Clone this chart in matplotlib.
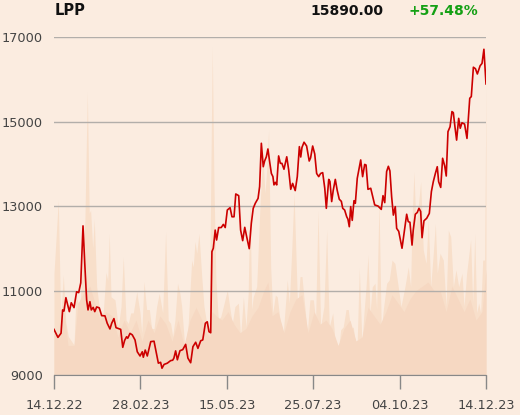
import matplotlib
matplotlib.use('Agg')
import matplotlib.pyplot as plt

# LPP share price, last year (x = trading day index)
price_day = [0, 2.3, 4.1, 5.0, 5.8, 6.9, 8.9, 10.0, 11.6, 13.1, 14.3, 15.5, 16.8, 17.8, 18.9,
             19.7, 20.8, 21.6, 22.7, 23.6, 24.7, 26.2, 27.6, 29.5, 30.8, 32.4, 33.4, 34.7, 35.9,
             38.6, 39.8, 40.9, 42.0, 42.7, 44.0, 45.3, 46.9, 48.2, 49.8, 51.1, 51.7, 52.8, 54.0,
             56.0, 57.9, 59.2, 60.4, 61.7, 62.5, 63.7, 65.6, 67.5, 68.7, 69.4, 70.4, 71.4, 72.9,
             74.5, 76.2, 77.5, 79.1, 80.4, 82.0, 83.3, 84.9, 86.1, 87.6, 88.7, 89.7, 90.7, 91.4,
             92.2, 93.3, 94.1, 95.3, 96.8, 98.0, 99.1, 100.3, 101.9, 103.0, 104.2, 105.2, 106.9,
             108.0, 109.2, 110.4, 111.5, 113.0, 114.2, 115.3, 116.5, 118.1, 119.0, 120.0, 121.1,
             121.9, 122.9, 123.8, 124.8, 125.8, 126.7, 127.3, 128.1, 128.9, 130.0, 131.0, 131.9,
             133.1, 134.7, 135.8, 137.0, 138.1, 139.6, 140.8, 142.0, 142.8, 143.5, 144.7, 146.2,
             147.7, 148.5, 149.7, 150.9, 152.0, 153.2, 154.3, 155.5, 156.7, 157.6, 159.0, 159.7,
             160.7, 161.6, 162.8, 163.9, 165.1, 166.3, 167.1, 168.2, 169.4, 170.1, 170.9, 171.7,
             172.6, 173.6, 174.4, 175.5, 177.5, 178.6, 179.8, 180.6, 181.7, 183.3, 185.6, 187.5,
             189.4, 190.4, 191.4, 192.5, 193.5, 194.4, 195.4, 196.4, 197.5, 198.3, 199.5, 200.4,
             201.4, 202.9, 204.1, 205.0, 206.0, 207.2, 207.9, 209.1, 210.2, 211.2, 212.2, 213.0,
             214.1, 215.7, 217.2, 218.4, 219.5, 220.7, 221.8, 222.6, 223.8, 224.9, 226.1, 227.0,
             228.0, 229.2, 230.3, 231.1, 231.9, 233.0, 234.2, 235.1, 236.1, 237.6, 239.0, 240.6,
             241.5, 242.7, 243.9, 245.0, 246.6, 247.7, 248.8, 250.0]
price = [10080, 9890, 9990, 10540, 10515, 10830, 10500, 10710, 10595, 10970, 10950, 11180, 12530,
         11650, 10775, 10540, 10735, 10540, 10600, 10500, 10610, 10590, 10405, 10400, 10225, 10090,
         10225, 10335, 10120, 10080, 9655, 9820, 9905, 9870, 9985, 9950, 9830, 9550, 9450, 9550,
         9420, 9590, 9450, 9790, 9800, 9530, 9280, 9300, 9160, 9250, 9280, 9340, 9350, 9400, 9570,
         9360, 9575, 9600, 9725, 9400, 9290, 9670, 9775, 9630, 9810, 9830, 10225, 10260, 10025,
         10000, 11920, 12000, 12430, 12195, 12490, 12490, 12565, 12490, 12905, 12960, 12745, 12745,
         13285, 13245, 12430, 12180, 12495, 12275, 11990, 12590, 12945, 13065, 13180, 13460, 14485,
         13930, 14065, 14165, 14350, 14050, 13770, 13695, 13500, 13560, 13500, 14185, 14010, 14010,
         13870, 14165, 13860, 13395, 13535, 13365, 13695, 14405, 14160, 14385, 14510, 14420, 14065,
         14140, 14420, 14230, 13770, 13695, 13770, 13790, 13420, 12945, 13630, 13580, 13105, 13370,
         13630, 13370, 13160, 13110, 12945, 12905, 12745, 12690, 12510, 12985, 12660, 13125, 13065,
         13655, 14090, 13695, 13985, 13970, 13395, 13420, 13025, 13000, 12920, 13245, 13080, 13815,
         13940, 13830, 13220, 12785, 12985, 12470, 12400, 12210, 12000, 12450, 12805, 12630, 12615,
         12075, 12430, 12805, 12845, 12945, 12870, 12250, 12650, 12710, 12825, 13340, 13575, 13770,
         13930, 13575, 13440, 14130, 13950, 13710, 14760, 14875, 15235, 15210, 14920, 14560, 15075,
         14840, 14970, 14940, 14600, 15550, 15590, 16285, 16250, 16125, 16320, 16375, 16710, 15890]

# daily volume (shares)
vol_day = [0, 2.5, 3.9, 5.4, 6.8, 8.3, 11.6, 12.7, 15.0, 17.9, 19.3, 20.4, 21.2, 22.4, 23.3, 24.7,
           26.6, 28.5, 30.1, 31.1, 32.0, 33.0, 35.3, 37.2, 38.8, 40.1, 41.7, 43.0, 44.4, 45.9, 47.9,
           49.8, 50.8, 52.1, 53.6, 55.2, 56.5, 57.9, 59.4, 60.9, 62.9, 64.6, 66.1, 67.5, 68.7, 70.0,
           71.5, 72.9, 73.9, 75.8, 77.7, 79.7, 80.6, 81.6, 82.6, 83.9, 85.5, 86.8, 88.4, 89.9, 90.7,
           91.6, 92.6, 93.7, 95.1, 96.5, 98.0, 100.3, 101.9, 103.2, 104.7, 106.7, 108.0, 109.6,
           111.1, 112.4, 113.4, 114.4, 115.3, 117.3, 119.2, 120.8, 122.1, 123.1, 124.2, 125.4,
           126.6, 128.1, 129.2, 130.8, 132.7, 135.0, 136.2, 137.6, 138.9, 140.0, 141.0, 142.4,
           143.5, 145.3, 146.6, 148.1, 150.1, 151.4, 152.8, 154.3, 156.2, 157.8, 159.3, 161.3,
           162.6, 164.5, 165.9, 167.4, 169.0, 170.3, 171.7, 173.2, 174.2, 175.5, 176.7, 178.2,
           179.4, 180.6, 181.7, 182.9, 184.2, 185.8, 186.7, 188.1, 189.4, 190.6, 192.5, 194.0,
           195.6, 197.3, 199.2, 200.8, 203.1, 205.0, 206.4, 207.2, 208.3, 209.5, 210.8, 212.2,
           213.7, 215.3, 216.6, 218.0, 219.5, 220.7, 221.8, 223.4, 225.3, 226.9, 228.2, 229.6,
           231.1, 232.6, 234.2, 236.1, 237.3, 238.8, 241.1, 242.3, 243.5, 244.6, 245.8, 246.9,
           248.1, 249.2, 250.0]
volume = [2400, 4140, 1300, 2370, 1260, 910, 710, 1850, 1620, 3670, 6700, 3830, 3900, 3000, 3690,
          2090, 1470, 1470, 2430, 2240, 3350, 1850, 1780, 1140, 1620, 2800, 1300, 1220, 1470, 1470,
          1970, 1470, 990, 2210, 1550, 1550, 1100, 1100, 1620, 1930, 1470, 3390, 1300, 1220, 910,
          1300, 2170, 1930, 1620, 590, 1220, 2720, 2560, 3160, 2880, 3350, 2330, 1620, 1220, 1070,
          4460, 7770, 4460, 2250, 1300, 1380, 1620, 2010, 1550, 1220, 1620, 1700, 910, 1850, 1140,
          1930, 4340, 1550, 1850, 2090, 3980, 5250, 4300, 4850, 5800, 2560, 1470, 1890, 1850, 1300,
          990, 2250, 1700, 2960, 4300, 2880, 1550, 2330, 2330, 1550, 990, 1780, 1780, 1300, 3900,
          1140, 1620, 3430, 1140, 1470, 830, 510, 1070, 1140, 1550, 1550, 1070, 1140, 790, 830,
          2530, 750, 1470, 2090, 2840, 1470, 2090, 2170, 1550, 4100, 1070, 1550, 2170, 2250, 2720,
          2640, 2090, 1620, 2090, 2560, 2090, 3670, 4810, 3510, 3980, 4580, 2960, 2640, 3670, 2090,
          2880, 3590, 2410, 2880, 2720, 1620, 3430, 3270, 2090, 2490, 2090, 2410, 1620, 2410, 3200,
          1700, 3350, 1470, 1700, 1470, 2720, 2720, 6900]

# smoothed volume (darker band)
avg_day = [0, 3.5, 5.8, 8.1, 11.6, 13.9, 17.9, 20.8, 23.7, 26.6, 30.1, 33.6, 37.0, 40.5, 44.0,
           47.5, 50.9, 54.4, 57.9, 61.3, 64.8, 68.3, 71.8, 75.2, 78.7, 82.2, 85.6, 88.0, 90.3,
           91.4, 93.8, 97.2, 100.7, 104.2, 107.6, 111.1, 114.6, 118.1, 121.5, 123.8, 126.2, 129.6,
           133.1, 136.6, 140.0, 143.5, 147.0, 150.5, 153.9, 157.4, 160.9, 164.4, 167.8, 171.3,
           174.8, 178.2, 181.7, 185.2, 188.7, 192.1, 195.6, 199.1, 202.5, 206.0, 209.5, 213.0,
           216.4, 219.9, 223.4, 226.9, 230.3, 233.8, 237.3, 240.7, 244.2, 247.7, 250.0]
avg_vol = [1000, 900, 1500, 700, 700, 1700, 2000, 2100, 1700, 1300, 1500, 1400, 900, 1300, 1000,
           1300, 800, 1300, 1000, 1400, 1200, 800, 1300, 700, 1300, 1600, 1300, 1000, 900, 1500,
           1400, 1300, 1500, 1200, 1000, 1100, 1400, 1600, 2000, 2200, 1400, 1500, 1000, 1500,
           1800, 1900, 1000, 1500, 1200, 1300, 1100, 700, 1100, 1300, 800, 900, 1600, 1400, 1200,
           1500, 1900, 1700, 1500, 1800, 2000, 2100, 2200, 2000, 2000, 1500, 2100, 1800, 1500,
           1800, 1300, 1500, 2500]

tick_pos = [0, 50, 100, 150, 200, 250]
tick_labels = ['14.12.22', '28.02.23', '15.05.23', '25.07.23', '04.10.23', '14.12.23']
y_ticks = [9000, 11000, 13000, 15000, 17000]

bg = '#fbece0'
fig = plt.figure(figsize=(5.2, 4.15), dpi=100, facecolor=bg)
ax = fig.add_axes([0.1038, 0.0964, 0.8308, 0.8144])
axv = ax.twinx()

# volume behind the price line
axv.fill_between(vol_day, 0, volume, color='#f8dfca', lw=0)
axv.fill_between(avg_day, 0, avg_vol, color='#f6d8c2', lw=0)
axv.set_ylim(0, 8000)
axv.set_yticks([])
for s in axv.spines.values():
    s.set_visible(False)

ax.set_zorder(axv.get_zorder() + 1)
ax.patch.set_visible(False)
axv.patch.set_facecolor(bg)

ax.plot(price_day, price, color='#cc0000', lw=1.2, zorder=3)
ax.set_xlim(0, 250)
ax.set_ylim(9000, 17000)
ax.set_yticks(y_ticks)
ax.set_xticks(tick_pos)
ax.set_xticklabels(tick_labels)
ax.grid(axis='y', color='#b2aeaa', lw=1)
ax.tick_params(axis='y', length=0, pad=8, labelsize=9.3, labelcolor='#444444')
ax.tick_params(axis='x', length=10, width=1, color='#888888', pad=7,
               labelsize=9.3, labelcolor='#444444')
for side in ['top', 'right', 'left']:
    ax.spines[side].set_visible(False)
ax.spines['bottom'].set_color('#888888')

fig.text(55 / 520, 0.965, 'LPP', fontsize=10.5, fontweight='bold', color='#111111')
fig.text(383 / 520, 0.965, '15890.00', fontsize=10, fontweight='bold', color='#111111', ha='right')
fig.text(408 / 520, 0.965, '+57.48%', fontsize=10, fontweight='bold', color='#14a014')

fig.savefig('out.png', dpi=100, facecolor=bg)
